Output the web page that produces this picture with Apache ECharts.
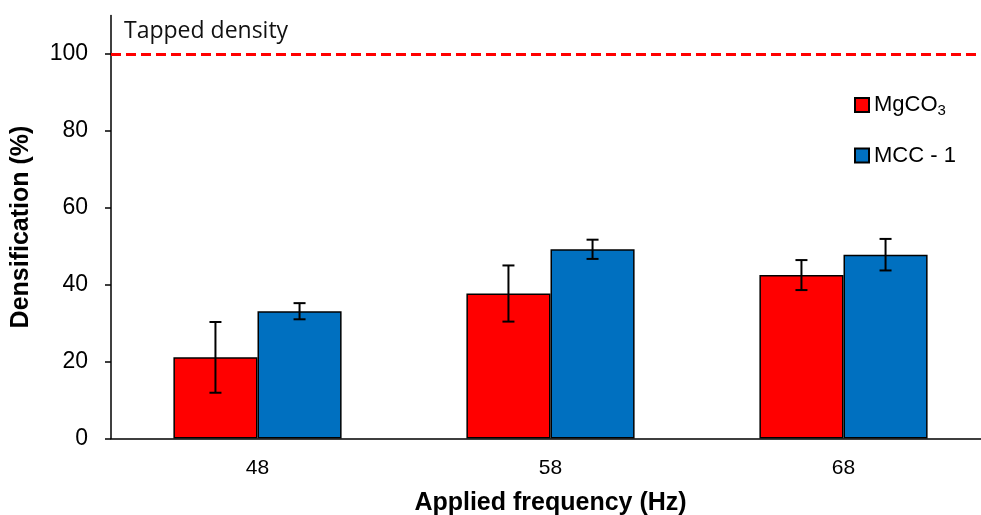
<!DOCTYPE html>
<html style="height: 100%">
<head>
	<meta charset="utf-8">
</head>
<body style="height: 100%; margin: 0; background: #fff; overflow: hidden">
<div id="container" style="width: 1000px; height: 515px"></div>
<script type="text/javascript" src="https://cdn.jsdelivr.net/npm/echarts@6/dist/echarts.min.js"></script>
<script type="text/javascript">
    // data
    var frequencies = ['48', '58', '68'];
    var mgco3 = [21.1, 37.7, 42.5];
    var mgco3Err = [9.2, 7.3, 3.9];
    var mcc = [33.1, 49.2, 47.8];
    var mccErr = [2.1, 2.5, 4.1];
    var tappedDensity = 100;
    var yTicks = [0, 20, 40, 60, 80, 100];

    var BAR_FRAC = 0.287;
    var arial = "'Liberation Sans', Arial, sans-serif";

    var dom = document.getElementById("container");
    var myChart = echarts.init(dom);

    function errSeries(name, vals, errs, side) {
        return {
            name: name,
            type: 'custom',
            z: 10,
            silent: true,
            data: vals.map(function (v, i) { return [i, v - errs[i], v + errs[i]]; }),
            renderItem: function (params, api) {
                var band = api.size([1, 0])[0];
                var dx = side * band * BAR_FRAC / 2;
                var lo = api.coord([api.value(0), api.value(1)]);
                var hi = api.coord([api.value(0), api.value(2)]);
                var x = lo[0] + dx;
                var cap = 6;
                var st = { stroke: '#000', lineWidth: 2 };
                return {
                    type: 'group',
                    children: [
                        { type: 'line', shape: { x1: x, y1: lo[1], x2: x, y2: hi[1] }, style: st },
                        { type: 'line', shape: { x1: x - cap, y1: lo[1], x2: x + cap, y2: lo[1] }, style: st },
                        { type: 'line', shape: { x1: x - cap, y1: hi[1], x2: x + cap, y2: hi[1] }, style: st }
                    ]
                };
            }
        };
    }

    var option = {
        backgroundColor: '#fff',
        animation: false,
        title: {
            text: 'Tapped density',
            left: 119,
            top: 15,
            textStyle: { fontSize: 23, fontWeight: 'normal', color: '#111', fontFamily: "'Open Sans', 'Noto Sans', sans-serif" }
        },
        legend: {
            data: ['MgCO3', 'MCC-1'],
            orient: 'vertical',
            left: 849,
            top: 89,
            itemGap: 26,
            itemWidth: 14,
            itemHeight: 14,
            icon: 'rect',
            textStyle: {
                fontSize: 22,
                color: '#000',
                fontFamily: arial,
                rich: {
                    sub: { fontSize: 15, verticalAlign: 'bottom', padding: [12, 0, 0, 0], fontFamily: arial, color: '#000' }
                }
            },
            formatter: function (n) {
                return n === 'MgCO3' ? 'MgCO{sub|3}' : 'MCC - 1';
            }
        },
        grid: {
            left: 111,
            top: 15.5,
            width: 879,
            bottom: 76.5,
            containLabel: false,
            outerBoundsMode: 'none'
        },
        xAxis: {
            type: 'category',
            data: frequencies,
            name: 'Applied frequency (Hz)',
            nameLocation: 'middle',
            nameGap: 52,
            nameTextStyle: { fontSize: 25, fontWeight: 'bold', color: '#000', fontFamily: arial },
            axisLine: { lineStyle: { color: '#000', width: 1.5 } },
            axisTick: { show: false },
            axisLabel: { fontSize: 21, color: '#000', margin: 19, fontFamily: arial }
        },
        yAxis: {
            type: 'value',
            min: 0,
            max: 110,
            interval: 20,
            name: 'Densification (%)',
            nameLocation: 'middle',
            nameGap: 77,
            nameTextStyle: { fontSize: 25, fontWeight: 'bold', color: '#000', fontFamily: arial },
            splitLine: { show: false },
            axisLine: { show: true, lineStyle: { color: '#000', width: 1.5 } },
            axisTick: { show: true, length: 6, lineStyle: { color: '#000', width: 1.5 } },
            axisLabel: {
                fontSize: 23, color: '#000', margin: 23, showMaxLabel: false,
                fontFamily: arial,
                formatter: function (v) { return yTicks.indexOf(v) >= 0 ? String(v) : ''; }
            }
        },
        series: [
            {
                name: 'MgCO3',
                type: 'bar',
                data: mgco3,
                barWidth: (BAR_FRAC * 100) + '%',
                barGap: '0%',
                itemStyle: { color: '#ff0000', borderColor: '#000', borderWidth: 1.5 },
                markLine: {
                    silent: true,
                    symbol: 'none',
                    label: { show: false },
                    lineStyle: { color: '#ff0000', type: [10, 5], width: 3 },
                    data: [{ yAxis: tappedDensity }]
                }
            },
            {
                name: 'MCC-1',
                type: 'bar',
                data: mcc,
                barWidth: (BAR_FRAC * 100) + '%',
                barGap: '0%',
                itemStyle: { color: '#0070c0', borderColor: '#000', borderWidth: 1.5 }
            },
            errSeries('err1', mgco3, mgco3Err, -1),
            errSeries('err2', mcc, mccErr, 1)
        ]
    };

    myChart.setOption(option, true);
</script>
</body>
</html>
